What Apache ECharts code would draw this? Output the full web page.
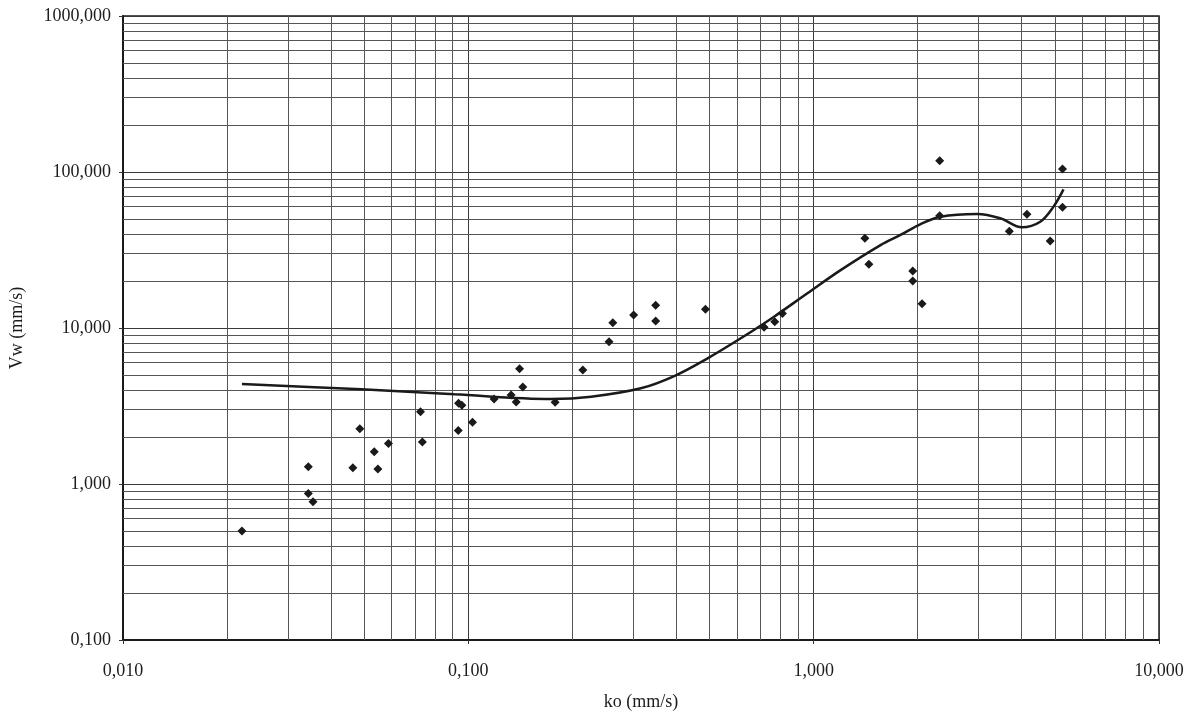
<!DOCTYPE html>
<html>
<head>
<meta charset="utf-8">
<script src="https://cdn.jsdelivr.net/npm/echarts@6/dist/echarts.min.js"></script>
<style>
html,body{margin:0;padding:0;background:#fff;}
#chart{width:1200px;height:716px;}
</style>
</head>
<body>
<div id="chart"></div>
<script>
// Measured points: ko (mm/s) and Vw (mm/s)
const koValues = [0.0221, 0.0344, 0.0344, 0.0355, 0.0463, 0.0485, 0.0534, 0.0547, 0.0587, 0.0727,
  0.0736, 0.0937, 0.0958, 0.0935, 0.1028, 0.1187, 0.133, 0.1376, 0.1407, 0.1438,
  0.1784, 0.2145, 0.2556, 0.262, 0.301, 0.3487, 0.3487, 0.486, 0.7185, 0.7714,
  0.812, 1.407, 1.445, 1.936, 1.936, 2.06, 2.317, 2.317, 3.686, 4.146,
  4.84, 5.255, 5.255];
const vwValues = [0.50, 1.29, 0.87, 0.77, 1.27, 2.26, 1.61, 1.25, 1.82, 2.91,
  1.86, 3.29, 3.20, 2.20, 2.49, 3.51, 3.72, 3.35, 5.48, 4.19,
  3.34, 5.38, 8.17, 10.8, 12.1, 14.0, 11.1, 13.2, 10.1, 10.98,
  12.4, 37.6, 25.6, 23.2, 20.0, 14.3, 118, 52.5, 41.7, 53.6,
  36.1, 104.5, 59.4];
// Trend curve
const trendKo = [0.0221, 0.049, 0.0912, 0.174, 0.2268, 0.316, 0.3947, 0.493, 0.615, 0.768,
  0.959, 1.197, 1.562, 1.784, 2.04, 2.33, 2.97, 3.47, 4.01, 4.53, 4.95, 5.29];
const trendVw = [4.37, 4.05, 3.76, 3.51, 3.63, 4.11, 4.92, 6.39, 8.59, 11.82,
  16.7, 23.5, 34.0, 39.5, 46.4, 51.7, 53.8, 50.5, 44.2, 48.0, 60, 77.4];
// Axis ranges and labels
const xMin = 0.01, xMax = 10;
const yMin = 0.1, yMax = 1000;
const xTitle = 'ko (mm/s)';
const yTitle = 'Vw (mm/s)';

function fmt(v){ return Number(v).toFixed(3).replace('.', ','); }

// minor grid values 2..9 per decade (axis grid, not data)
function minorValues(lo, hi){
  const out = [];
  for (let d = lo; d < hi * 0.999; d *= 10) {
    for (let m = 2; m <= 9; m++) out.push(+(d * m).toPrecision(6));
  }
  return out;
}
const xMinor = minorValues(xMin, xMax);
const yMinor = minorValues(yMin, yMax);

const points = koValues.map((k, i) => [k, vwValues[i]]);
const trend = trendKo.map((k, i) => [k, trendVw[i]]);

const fontFamily = '"Liberation Serif", "DejaVu Serif", serif';
const textColor = '#1c1c1c';
const chart = echarts.init(document.getElementById('chart'));
chart.setOption({
  backgroundColor: '#ffffff',
  animation: false,
  grid: { left: 121, right: 41, top: 16, bottom: 76, show: true, borderColor: '#1a1a1a', borderWidth: 1.5 },
  xAxis: {
    type: 'log', logBase: 10, min: xMin, max: xMax,
    name: xTitle, nameLocation: 'middle', nameGap: 53,
    nameTextStyle: { fontFamily, fontSize: 18, color: textColor },
    axisLine: { show: true, lineStyle: { color: '#1a1a1a', width: 2 } },
    axisTick: { show: true, length: 4, lineStyle: { color: '#333' } },
    axisLabel: { formatter: fmt, fontFamily, fontSize: 18, color: textColor, margin: 22 },
    splitLine: { show: true, lineStyle: { color: '#3a3a3a', width: 1 } }
  },
  yAxis: {
    type: 'log', logBase: 10, min: yMin, max: yMax,
    name: yTitle, nameLocation: 'middle', nameGap: 97, nameRotate: 90,
    nameTextStyle: { fontFamily, fontSize: 18, color: textColor },
    axisLine: { show: true, lineStyle: { color: '#1a1a1a', width: 2 } },
    axisTick: { show: true, length: 4, lineStyle: { color: '#333' } },
    axisLabel: { formatter: fmt, fontFamily, fontSize: 18, color: textColor, margin: 12 },
    splitLine: { show: true, lineStyle: { color: '#3a3a3a', width: 1 } }
  },
  series: [
    {
      type: 'line', data: [], silent: true,
      markLine: {
        silent: true, symbol: ['none', 'none'], label: { show: false },
        lineStyle: { color: '#555', width: 1, type: 'solid' },
        data: xMinor.map(v => ({ xAxis: v })).concat(yMinor.map(v => ({ yAxis: v })))
      }
    },
    {
      type: 'scatter', data: points, symbol: 'diamond', symbolSize: 9,
      itemStyle: { color: '#1a1a1a', opacity: 1 }, z: 5
    },
    {
      type: 'line', data: trend, smooth: 0.35, showSymbol: false, symbol: 'none',
      lineStyle: { color: '#1a1a1a', width: 2.5 }, z: 6
    }
  ]
});
</script>
</body>
</html>
